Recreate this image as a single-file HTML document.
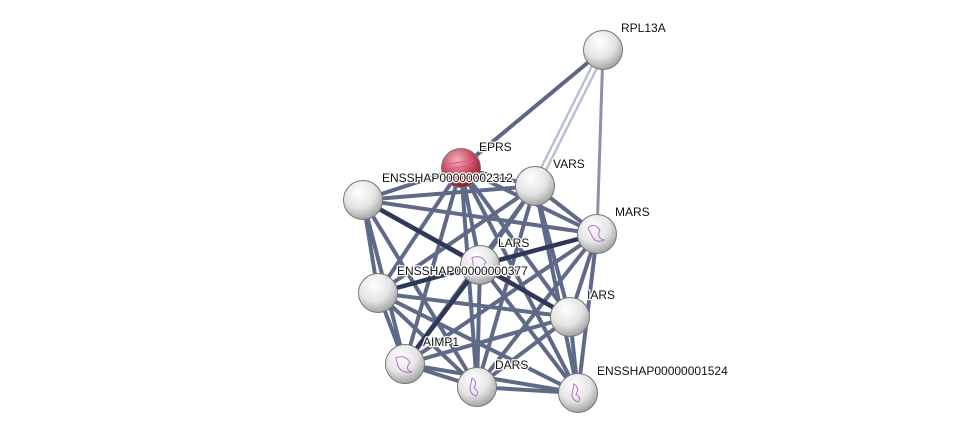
<!DOCTYPE html>
<html><head><meta charset="utf-8"><style>
html,body{margin:0;padding:0;background:#fff;}
svg{display:block;}
text{font-family:"Liberation Sans",sans-serif;font-size:12px;fill:#111;paint-order:stroke;stroke:#fff;stroke-width:2.5px;stroke-linejoin:round;}
</style></head><body>
<svg width="975" height="438" viewBox="0 0 975 438" xmlns="http://www.w3.org/2000/svg">
<defs>
<radialGradient id="g" cx="0.4" cy="0.3" r="0.75">
<stop offset="0" stop-color="#ffffff"/><stop offset="0.55" stop-color="#e4e4e4"/><stop offset="1" stop-color="#9a9a9a"/>
</radialGradient>
<radialGradient id="r" cx="0.4" cy="0.3" r="0.75">
<stop offset="0" stop-color="#f2b0b8"/><stop offset="0.55" stop-color="#c84a5a"/><stop offset="1" stop-color="#7a1c28"/>
</radialGradient>
</defs>
<g stroke-linecap="round" fill="none">
<line x1="603" y1="50" x2="461" y2="168" stroke="#5c6685" stroke-width="4"/>
<line x1="600" y1="50" x2="532" y2="186" stroke="#b8bfd0" stroke-width="2.5"/>
<line x1="606" y1="50" x2="538" y2="186" stroke="#b8bfd0" stroke-width="2.5"/>
<line x1="603" y1="50" x2="597" y2="234" stroke="#8a93ab" stroke-width="3"/>
<g stroke="#5f6a89" stroke-width="4">
<line x1="461" y1="168" x2="363" y2="200"/>
<line x1="461" y1="168" x2="535" y2="186"/>
<line x1="461" y1="168" x2="597" y2="234"/>
<line x1="461" y1="168" x2="480" y2="265"/>
<line x1="461" y1="168" x2="378" y2="293"/>
<line x1="461" y1="168" x2="570" y2="317"/>
<line x1="461" y1="168" x2="405" y2="364"/>
<line x1="461" y1="168" x2="477" y2="387"/>
<line x1="461" y1="168" x2="578" y2="393"/>
<line x1="363" y1="200" x2="535" y2="186"/>
<line x1="363" y1="200" x2="597" y2="234"/>
<line x1="363" y1="200" x2="378" y2="293"/>
<line x1="363" y1="200" x2="570" y2="317"/>
<line x1="363" y1="200" x2="405" y2="364"/>
<line x1="363" y1="200" x2="477" y2="387"/>
<line x1="535" y1="186" x2="597" y2="234"/>
<line x1="535" y1="186" x2="480" y2="265"/>
<line x1="535" y1="186" x2="378" y2="293"/>
<line x1="535" y1="186" x2="570" y2="317"/>
<line x1="535" y1="186" x2="405" y2="364"/>
<line x1="535" y1="186" x2="477" y2="387"/>
<line x1="535" y1="186" x2="578" y2="393"/>
<line x1="597" y1="234" x2="378" y2="293"/>
<line x1="597" y1="234" x2="570" y2="317"/>
<line x1="597" y1="234" x2="405" y2="364"/>
<line x1="597" y1="234" x2="477" y2="387"/>
<line x1="597" y1="234" x2="578" y2="393"/>
<line x1="480" y1="265" x2="477" y2="387"/>
<line x1="480" y1="265" x2="578" y2="393"/>
<line x1="378" y1="293" x2="570" y2="317"/>
<line x1="378" y1="293" x2="405" y2="364"/>
<line x1="378" y1="293" x2="477" y2="387"/>
<line x1="378" y1="293" x2="578" y2="393"/>
<line x1="570" y1="317" x2="405" y2="364"/>
<line x1="570" y1="317" x2="477" y2="387"/>
<line x1="570" y1="317" x2="578" y2="393"/>
<line x1="405" y1="364" x2="477" y2="387"/>
<line x1="405" y1="364" x2="578" y2="393"/>
<line x1="477" y1="387" x2="578" y2="393"/>
</g>
<g stroke="#2e3859" stroke-width="4.5">
<line x1="363" y1="200" x2="480" y2="265"/>
<line x1="378" y1="293" x2="480" y2="265"/>
<line x1="480" y1="265" x2="597" y2="234"/>
<line x1="480" y1="265" x2="570" y2="317"/>
<line x1="480" y1="265" x2="405" y2="364"/>
</g>
</g>
<g stroke="#777" stroke-width="1">
<circle cx="603" cy="50" r="19.5" fill="url(#g)"/>
<circle cx="363" cy="200" r="19.5" fill="url(#g)"/>
<circle cx="461" cy="168" r="19.5" fill="url(#r)"/>
<circle cx="535" cy="186" r="19.5" fill="url(#g)"/>
<circle cx="597" cy="234" r="19.5" fill="url(#g)"/>
<circle cx="480" cy="265" r="19.5" fill="url(#g)"/>
<circle cx="378" cy="293" r="19.5" fill="url(#g)"/>
<circle cx="570" cy="317" r="19.5" fill="url(#g)"/>
<circle cx="405" cy="364" r="19.5" fill="url(#g)"/>
<circle cx="477" cy="387" r="19.5" fill="url(#g)"/>
<circle cx="578" cy="393" r="19.5" fill="url(#g)"/>
</g>
<g fill="none" stroke="#b070d0" stroke-width="1">
<path d="M588 228 q6 -6 12 2 q-4 8 4 10 q-8 4 -12 -4 z"/>
<path d="M472 258 q8 -4 14 4 q-6 8 2 12 q-10 2 -14 -6 z"/>
<path d="M396 358 q8 -4 14 4 q-6 8 2 10 q-10 2 -14 -6 z"/>
<path d="M472 378 q6 4 2 10 q6 4 2 8 q-6 -2 -6 -8 z"/>
<path d="M574 384 q6 4 2 10 q6 4 2 8 q-6 -2 -6 -8 z"/>
<path d="M448 164 l26 -4 M448 169 l26 -4" stroke="#e050a0"/>
</g>
<text x="621" y="32">RPL13A</text>
<text x="479" y="151">EPRS</text>
<text x="382" y="182">ENSSHAP00000002312</text>
<text x="553" y="168">VARS</text>
<text x="615" y="216">MARS</text>
<text x="498" y="247">LARS</text>
<text x="397" y="275">ENSSHAP00000000377</text>
<text x="587" y="299">IARS</text>
<text x="423" y="346">AIMP1</text>
<text x="495" y="369">DARS</text>
<text x="597" y="375">ENSSHAP00000001524</text>
</svg>
</body></html>
